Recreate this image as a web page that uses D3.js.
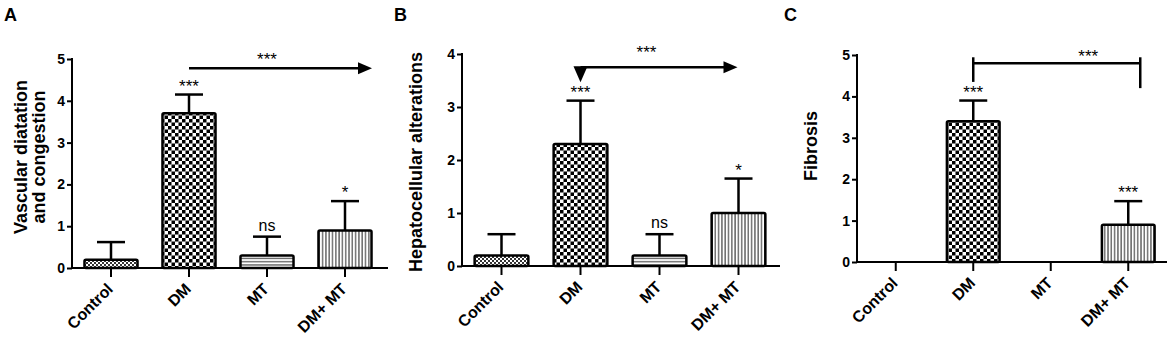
<!DOCTYPE html>
<html>
<head>
<meta charset="utf-8">
<script src="https://cdn.jsdelivr.net/npm/d3@7"></script>
<style>
  body { margin: 0; background: #fff; }
  text { font-family: "Liberation Sans", Arial, sans-serif; fill: #000; }
</style>
</head>
<body>
<div id="vis"></div>
<script>
// groups (x categories)
const groups = ["Control", "DM", "MT", "DM+ MT"];

// panel A - vascular dilatation
const vascMean = [0.2, 3.7, 0.3, 0.9];
const vascSd = [0.42, 0.45, 0.45, 0.7];
const vascSig = ["", "***", "ns", "*"];

// panel B - hepatocellular alterations
const hepMean = [0.2, 2.3, 0.2, 1.0];
const hepSd = [0.4, 0.82, 0.4, 0.65];
const hepSig = ["", "***", "ns", "*"];

// panel C - fibrosis
const fibMean = [0, 3.4, 0, 0.9];
const fibSd = [0, 0.5, 0, 0.57];
const fibSig = ["", "***", "", "***"];

const yTicksA = [0, 1, 2, 3, 4, 5];
const yTicksB = [0, 1, 2, 3, 4];
const yTicksC = [0, 1, 2, 3, 4, 5];

const width = 1170, height = 339;
const font = "'Liberation Sans', Arial, sans-serif";

const svg = d3.select("#vis").append("svg")
  .attr("width", width)
  .attr("height", height);

// patterns
const defs = svg.append("defs");
const fills = ["pControl", "pDM", "pMT", "pDMMT"];

// fine checker for control
let p = defs.append("pattern").attr("id", "pControl").attr("patternUnits", "userSpaceOnUse")
  .attr("width", 4).attr("height", 4);
p.append("rect").attr("width", 4).attr("height", 4).attr("fill", "#fff");
p.append("rect").attr("width", 2).attr("height", 2).attr("fill", "#333");
p.append("rect").attr("x", 2).attr("y", 2).attr("width", 2).attr("height", 2).attr("fill", "#333");

// bigger checker for DM
p = defs.append("pattern").attr("id", "pDM").attr("patternUnits", "userSpaceOnUse")
  .attr("width", 7).attr("height", 7);
p.append("rect").attr("width", 7).attr("height", 7).attr("fill", "#fff");
p.append("rect").attr("width", 3.5).attr("height", 3.5).attr("fill", "#000");
p.append("rect").attr("x", 3.5).attr("y", 3.5).attr("width", 3.5).attr("height", 3.5).attr("fill", "#000");

// horizontal lines for MT
p = defs.append("pattern").attr("id", "pMT").attr("patternUnits", "userSpaceOnUse")
  .attr("width", 4).attr("height", 3.2);
p.append("rect").attr("width", 4).attr("height", 3.2).attr("fill", "#fff");
p.append("rect").attr("y", 2).attr("width", 4).attr("height", 1).attr("fill", "#222");

// vertical lines for DM+MT
p = defs.append("pattern").attr("id", "pDMMT").attr("patternUnits", "userSpaceOnUse")
  .attr("width", 3.3).attr("height", 4);
p.append("rect").attr("width", 3.3).attr("height", 4).attr("fill", "#fff");
p.append("rect").attr("x", 2).attr("width", 1).attr("height", 4).attr("fill", "#222");

function drawPanel(cfg) {
  const g = svg.append("g");

  const x = d3.scaleBand()
    .domain(groups)
    .range(cfg.band)
    .paddingInner(0.32)
    .paddingOuter(0.16);

  const y = d3.scaleLinear()
    .domain([0, cfg.ymax])
    .range(cfg.yr);

  const data = groups.map((k, i) => ({ k: k, m: cfg.mean[i], sd: cfg.sd[i], sig: cfg.sig[i], f: fills[i] }));
  const cx = d => x(d.k) + x.bandwidth() / 2;
  const capW = 14;

  // error bars (upper only)
  const eb = g.selectAll(".eb").data(data.filter(d => d.m > 0)).enter();
  eb.append("line")
    .attr("x1", cx).attr("x2", cx)
    .attr("y1", d => y(d.m)).attr("y2", d => y(d.m + d.sd))
    .attr("stroke", "#000").attr("stroke-width", 2.5);
  eb.append("line")
    .attr("x1", d => cx(d) - capW).attr("x2", d => cx(d) + capW)
    .attr("y1", d => y(d.m + d.sd)).attr("y2", d => y(d.m + d.sd))
    .attr("stroke", "#000").attr("stroke-width", 2.5);

  // bars
  g.selectAll(".bar").data(data.filter(d => d.m > 0)).enter()
    .append("rect")
    .attr("x", d => x(d.k))
    .attr("y", d => y(d.m))
    .attr("width", x.bandwidth())
    .attr("height", d => y(0) - y(d.m))
    .attr("rx", 1.5)
    .attr("fill", d => "url(#" + d.f + ")")
    .attr("stroke", "#000")
    .attr("stroke-width", 2.5);

  // significance labels over bars
  g.selectAll(".sig").data(data.filter(d => d.sig)).enter()
    .append("text")
    .attr("x", cx)
    .attr("y", d => y(d.m + d.sd) - (d.sig == "ns" ? 6 : 3))
    .attr("text-anchor", "middle")
    .style("font-size", d => d.sig == "ns" ? "16px" : "17px")
    .style("font-family", font)
    .text(d => d.sig);

  // y axis
  const yAxis = g.append("g")
    .attr("transform", "translate(" + cfg.band[0] + ",0)")
    .call(d3.axisLeft(y).tickValues(cfg.ticks).tickFormat(d3.format("d")).tickSize(5).tickSizeOuter(0));
  yAxis.select(".domain").attr("stroke-width", 2).attr("d", "M0," + (cfg.yr[1] - 1) + "V" + y(0));
  yAxis.selectAll(".tick line").attr("stroke-width", 2);
  yAxis.selectAll(".tick text")
    .attr("x", -7)
    .style("font-size", "14px").style("font-weight", "bold")
    .style("font-family", font);

  // x axis
  const xAxis = g.append("g")
    .attr("transform", "translate(0," + y(0) + ")")
    .call(d3.axisBottom(x).tickSize(9).tickSizeOuter(0));
  xAxis.select(".domain").attr("stroke-width", 2).attr("d", "M" + (cfg.band[0] - 1) + ",0H" + cfg.xend);
  xAxis.selectAll(".tick line").attr("stroke-width", 2);
  xAxis.selectAll(".tick text")
    .attr("text-anchor", "end")
    .attr("x", 0).attr("y", 0).attr("dy", 0)
    .attr("transform", "translate(3,22) rotate(-45)")
    .style("font-size", "16px").style("font-weight", "bold")
    .style("font-family", font);

  // y label
  cfg.ylabel.forEach((t, i) => {
    g.append("text")
      .attr("transform", "translate(" + (cfg.ylabelX + i * 18) + "," + cfg.ylabelY + ") rotate(-90)")
      .attr("text-anchor", "middle")
      .attr("dominant-baseline", "central")
      .style("font-size", "18px").style("font-weight", "bold")
      .text(t);
  });

  // panel letter
  g.append("text")
    .attr("x", cfg.letterX).attr("y", 21)
    .style("font-size", "18px").style("font-weight", "bold")
    .text(cfg.letter);

  // comparison annotation
  const c = cfg.comp;
  const x1 = x("DM") + x.bandwidth() / 2;
  const x2 = x1 + c.len;
  const yc = y(c.v);
  g.append("line").attr("x1", x1).attr("x2", c.type == "arrow" || c.type == "tri" ? x2 - 10 : x2)
    .attr("y1", yc).attr("y2", yc).attr("stroke", "#000").attr("stroke-width", 2.5);
  if (c.type == "arrow" || c.type == "tri") {
    g.append("path")
      .attr("d", "M" + (x2 - 14) + "," + (yc - 6) + "L" + x2 + "," + yc + "L" + (x2 - 14) + "," + (yc + 6) + "Z")
      .attr("fill", "#000");
  }
  if (c.type == "tri") {
    g.append("path")
      .attr("d", "M" + (x1 - 7) + "," + (yc - 1) + "L" + (x1 + 7) + "," + (yc - 1) + "L" + x1 + "," + (yc + 15) + "Z")
      .attr("fill", "#000");
  }
  if (c.type == "bracket") {
    g.append("line").attr("x1", x1).attr("x2", x1).attr("y1", yc - 6).attr("y2", y(c.legL))
      .attr("stroke", "#000").attr("stroke-width", 2.5);
    g.append("line").attr("x1", x2).attr("x2", x2).attr("y1", yc - 6).attr("y2", y(c.legR))
      .attr("stroke", "#000").attr("stroke-width", 2.5);
  }
  g.append("text")
    .attr("x", x1 + c.starDx).attr("y", yc - c.starDy)
    .attr("text-anchor", "middle")
    .style("font-size", "17px")
    .text("***");
}

drawPanel({
  letter: "A", letterX: 4,
  band: [72, 384], xend: 388, yr: [268, 59], ymax: 5, ticks: yTicksA,
  mean: vascMean, sd: vascSd, sig: vascSig,
  ylabel: ["Vascular diatation", "and congestion"], ylabelX: 21, ylabelY: 157,
  comp: { type: "arrow", v: 4.78, len: 183, starDx: 78, starDy: 3 }
});

drawPanel({
  letter: "B", letterX: 394,
  band: [462, 778], xend: 780, yr: [266, 54], ymax: 4, ticks: yTicksB,
  mean: hepMean, sd: hepSd, sig: hepSig,
  ylabel: ["Hepatocellular alterations"], ylabelX: 416, ylabelY: 162,
  comp: { type: "tri", v: 3.75, len: 157, starDx: 66, starDy: 9 }
});

drawPanel({
  letter: "C", letterX: 784,
  band: [857, 1167], xend: 1167, yr: [262, 55], ymax: 5, ticks: yTicksC,
  mean: fibMean, sd: fibSd, sig: fibSig,
  ylabel: ["Fibrosis"], ylabelX: 811, ylabelY: 146,
  comp: { type: "bracket", v: 4.8, len: 167, starDx: 115, starDy: 1, legL: 4.35, legR: 4.2 }
});
</script>
</body>
</html>
